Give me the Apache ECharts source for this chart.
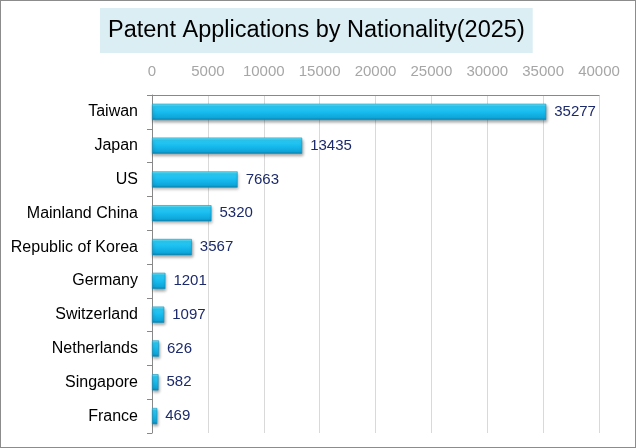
<!DOCTYPE html>
<html>
<head>
<meta charset="utf-8">
<script src="https://cdn.jsdelivr.net/npm/echarts@6/dist/echarts.min.js"></script>
<style>
  html, body { margin: 0; padding: 0; background: #fff; }
  #chart { width: 636px; height: 448px; box-sizing: border-box; border: 1px solid #8c8c8c; }
</style>
</head>
<body>
<div id="chart"></div>
<script>
// data
var countries = ['Taiwan', 'Japan', 'US', 'Mainland China', 'Republic of Korea',
  'Germany', 'Switzerland', 'Netherlands', 'Singapore', 'France']
var applications = [35277, 13435, 7663, 5320, 3567, 1201, 1097, 626, 582, 469]
var axisMax = 40000
var axisStep = 5000

var myChart = echarts.init(document.getElementById('chart'))

var option = {
  animation: false,
  textStyle: { fontFamily: 'Liberation Sans, Arial, sans-serif' },
  title: {
    text: 'Patent Applications by Nationality(2025)',
    left: 99,
    top: 7,
    padding: [9.5, 8],
    backgroundColor: '#dbeef4',
    textStyle: {
      fontSize: 23.5,
      fontWeight: 'normal',
      color: '#000',
      lineHeight: 26
    }
  },
  grid: {
    left: 151,
    top: 94,
    width: 447,
    height: 338
  },
  xAxis: {
    type: 'value',
    position: 'top',
    min: 0,
    max: axisMax,
    interval: axisStep,
    axisLine: { show: true, lineStyle: { color: '#888', width: 1 } },
    axisTick: { show: false },
    axisLabel: {
      color: '#a6a6a6',
      fontSize: 15,
      margin: 16,
      formatter: function (v) { return String(v) }
    },
    splitLine: { show: true, lineStyle: { color: '#d9d9d9', width: 1 } }
  },
  yAxis: {
    type: 'category',
    inverse: true,
    data: countries,
    axisLine: { show: true, lineStyle: { color: '#888', width: 1 } },
    axisTick: { show: true, length: 5, lineStyle: { color: '#888' } },
    axisLabel: { color: '#000', fontSize: 16, margin: 14 }
  },
  series: [
    {
      type: 'bar',
      data: applications,
      barWidth: '48%',
      itemStyle: {
        color: new echarts.graphic.LinearGradient(0, 0, 0, 1, [
          { offset: 0, color: '#7af0ff' },
          { offset: 0.15, color: '#2ccdf7' },
          { offset: 0.55, color: '#16b9ec' },
          { offset: 0.85, color: '#0ea6da' },
          { offset: 1, color: '#0b7fab' }
        ]),
        borderColor: '#1790bb',
        borderWidth: 0.6,
        shadowColor: 'rgba(0,0,0,0.35)',
        shadowBlur: 3,
        shadowOffsetX: 1,
        shadowOffsetY: 2
      },
      label: {
        show: true,
        position: 'right',
        distance: 8,
        color: '#1c2a6b',
        fontSize: 15
      }
    }
  ]
}
myChart.setOption(option)
</script>
</body>
</html>
